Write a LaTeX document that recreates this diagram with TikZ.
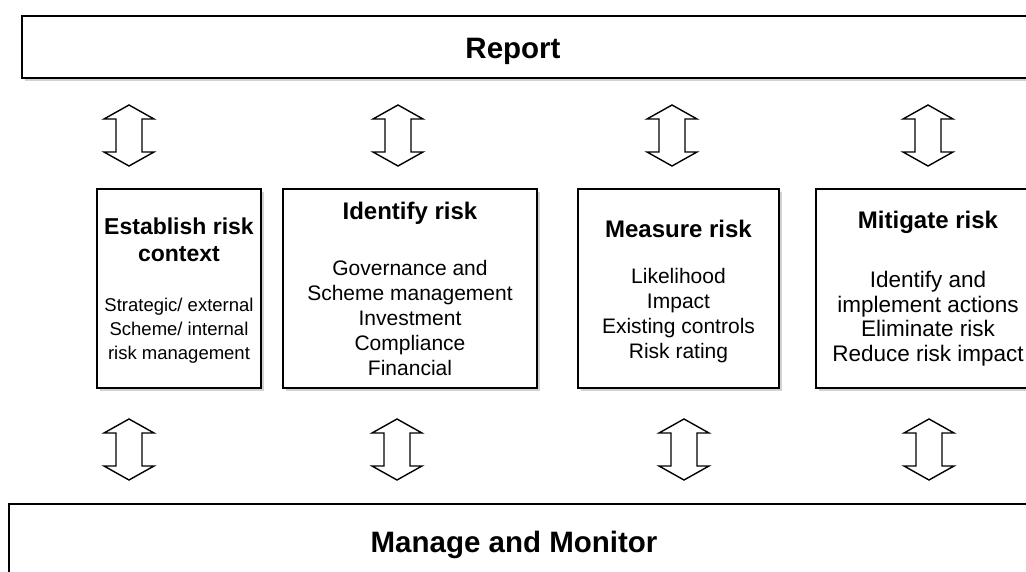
\documentclass[tikz,border=0pt]{standalone}
\usepackage{fontspec}
\setmainfont{Liberation Sans}
\usetikzlibrary{shadows}
\newcommand\udarr[4]{%
  \draw[udarrow] ({#2},{#3}) -- ({#2+25},{#3+14}) -- ({#2+13},{#3+14}) -- ({#2+13},{#4-14})
    -- ({#2+25},{#4-14}) -- ({#2},{#4}) -- ({#2-25},{#4-14}) -- ({#2-13},{#4-14})
    -- ({#2-13},{#3+14}) -- ({#2-25},{#3+14}) -- cycle;
  \coordinate (#1) at ({#2},{(#3+#4)/2});}
\begin{document}
\begin{tikzpicture}[x=1pt,y=-1pt,
  box/.style={draw=black, line width=1.8pt, fill=white, inner sep=0pt,
    drop shadow={shadow xshift=2.5pt, shadow yshift=-3pt, fill=black!35, opacity=0.5}},
  big/.style={font=\fontsize{29.5}{32}\selectfont\bfseries, inner sep=0pt},
  ttl/.style={font=\fontsize{24}{27}\selectfont\bfseries, align=center, inner sep=0pt},
  body/.style={font=\fontsize{21}{25}\selectfont, align=center, inner sep=0pt},
  ttlsmall/.style={font=\fontsize{23}{27}\selectfont\bfseries, align=center, inner sep=0pt},
  bodysmall/.style={font=\fontsize{18.5}{24}\selectfont, align=center, inner sep=0pt},
  bodylarge/.style={font=\fontsize{22.5}{24.5}\selectfont, align=center, inner sep=0pt},
  udarrow/.style={draw=black, line width=1.4pt, fill=white, line join=miter}]
\useasboundingbox (0,0) rectangle (1026,572);
% top and bottom bars
\node[box, minimum width=1018pt, minimum height=62.5pt] (report) at (531,47) {};
\node[big] (reporttxt) at (513,51) {Report};
\node[box, minimum width=1031pt, minimum height=96pt] (manage) at (524.5,552) {};
\node[big] (managetxt) at (514,545) {Manage and Monitor};
% middle boxes
\node[box, minimum width=164pt, minimum height=199pt] (b1) at (179,288.5) {};
\node[box, minimum width=254pt, minimum height=199pt] (b2) at (410,288.5) {};
\node[box, minimum width=201pt, minimum height=199pt] (b3) at (678.5,288.5) {};
\node[box, minimum width=224pt, minimum height=199pt] (b4) at (928,288.5) {};
% texts
\node[ttlsmall] (t1) at (179,239.5) {Establish risk\\context};
\node[bodysmall] (d1) at (179,331) {Strategic/ external\\Scheme/ internal\\risk management};
\node[ttl] (t2) at (410,213) {Identify risk};
\node[body] (d2) at (410,318) {Governance and\\Scheme management\\Investment\\Compliance\\Financial};
\node[ttl] (t3) at (678.5,229) {Measure risk};
\node[body] (d3) at (678.5,315.5) {Likelihood\\Impact\\Existing controls\\Risk rating};
\node[ttl] (t4) at (928,222) {Mitigate risk};
\node[bodylarge] (d4) at (928,318.5) {Identify and\\implement actions\\Eliminate risk\\Reduce risk impact};
% double arrows
\udarr{a1}{129}{105}{166}
\udarr{a2}{398}{105}{166}
\udarr{a3}{672}{105}{166}
\udarr{a4}{928}{105}{166}
\udarr{c1}{129}{419}{480}
\udarr{c2}{397}{419}{480}
\udarr{c3}{684}{419}{480}
\udarr{c4}{929}{419}{480}
\end{tikzpicture}
\end{document}
